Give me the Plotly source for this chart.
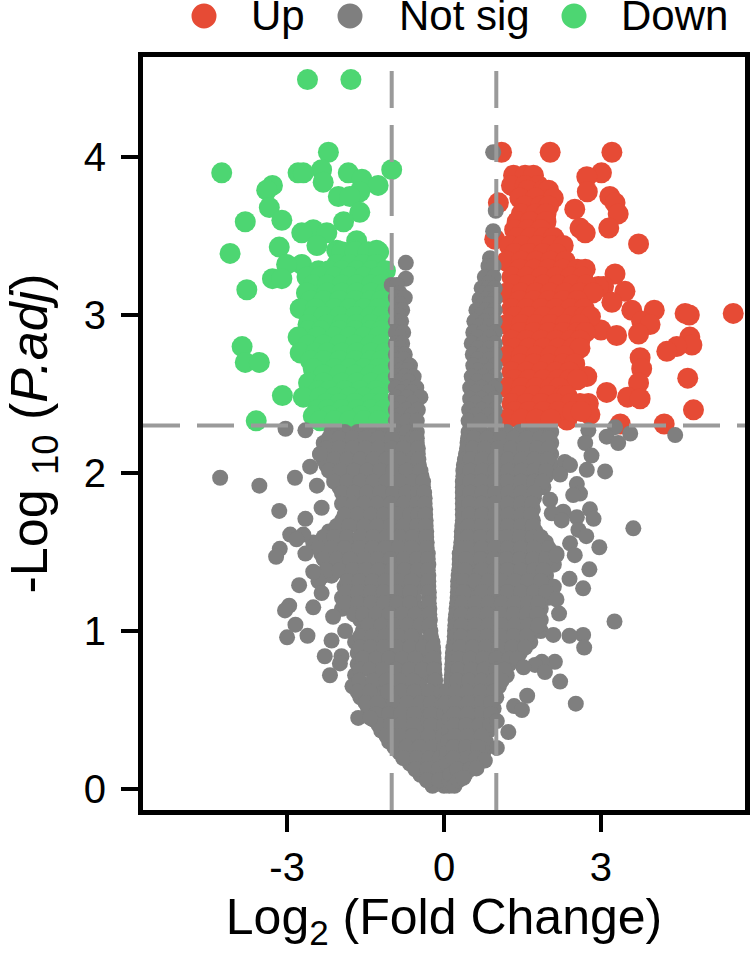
"""Volcano plot: Log2 fold change against -Log10 adjusted P, coloured by significance."""
import plotly.graph_objects as go

FONT = "Liberation Sans"
UP_COLOR = "#E64B35"
NOT_SIG_COLOR = "#7F7F7F"
DOWN_COLOR = "#4DD672"
GUIDE_COLOR = "#9A9A9A"

FC_CUTOFF = 1
P_CUTOFF = 2.3

X_TICKS = [-3, 0, 3]
Y_TICKS = [0, 1, 2, 3, 4]
LEGEND_LABELS = ["Up", "Not sig", "Down"]

# each row is (-log10 padj, [log2 fc, ...])
DOWN_SPARSE = [
    (4.49, [-2.61, -1.78]), (4.03, [-2.21]),
    (3.92, [-1.0, -2.34]), (3.9, [-4.25, -2.79, -2.69, -1.83]),
    (3.86, [-1.57]), (3.84, [-2.31]), (3.82, [-3.28, -1.26]), (3.79, [-3.39]),
    (3.78, [-1.61]), (3.75, [-2.02, -1.8]), (3.68, [-3.34]), (3.65, [-1.61]),
    (3.6, [-3.1]), (3.59, [-3.8, -1.92]), (3.54, [-2.5]), (3.52, [-2.72, -2.24]),
    (3.47, [-1.67]), (3.44, [-2.43]), (3.43, [-3.15]), (3.41, [-2.05, -1.73, -1.29]),
    (3.39, [-4.09]), (3.32, [-2.72, -3.01]), (3.23, [-3.28, -3.1]), (3.16, [-3.77]),
    (2.8, [-3.86]), (2.7, [-3.8, -3.53]), (2.49, [-3.09]), (2.33, [-3.59]),
]
DOWN_DENSE = [
    (3.4, [-1.95, -1.7, -1.45, -1.25]),
    (3.32, [-2.05, -1.8, -1.55, -1.3]),
    (3.28, [-2.4, -2.2, -1.95, -1.67, -1.39, -1.12]),
    (3.24, [-2.62, -2.37, -2.09, -1.81, -1.53, -1.25]),
    (3.19, [-2.5, -2.23, -1.95, -1.67, -1.39, -1.2]),
    (3.14, [-2.63, -2.23, -1.95, -1.67, -1.39, -1.12]),
    (3.09, [-2.55, -2.3, -2.0, -1.7, -1.4, -1.2]),
    (3.04, [-2.75, -2.45, -2.09, -1.81, -1.53, -1.25]),
    (2.99, [-2.5, -2.3, -2.0, -1.7, -1.4, -1.2]),
    (2.94, [-2.6, -2.23, -1.95, -1.67, -1.39, -1.12]),
    (2.9, [-2.6, -2.35, -2.0, -1.7, -1.4, -1.2]),
    (2.86, [-2.79, -2.42, -2.09, -1.81, -1.53, -1.25]),
    (2.81, [-2.6, -2.3, -2.0, -1.7, -1.4, -1.2]),
    (2.76, [-2.75, -2.45, -2.23, -1.95, -1.67, -1.39, -1.12]),
    (2.71, [-2.55, -2.3, -2.0, -1.7, -1.4, -1.2]),
    (2.66, [-2.5, -2.09, -1.81, -1.53, -1.25]),
    (2.62, [-2.3, -2.0, -1.7, -1.4, -1.2]),
    (2.57, [-2.59, -2.3, -1.95, -1.67, -1.39, -1.12]),
    (2.52, [-2.4, -2.2, -1.9, -1.6, -1.3]),
    (2.48, [-2.69, -2.37, -2.09, -1.81, -1.53, -1.25]),
    (2.44, [-2.25, -2.0, -1.7, -1.4, -1.2]),
    (2.4, [-2.42, -2.23, -1.95, -1.67, -1.39, -1.15]),
    (2.36, [-2.5, -2.2, -1.9, -1.6, -1.3]),
    (2.33, [-2.37, -2.09, -1.81, -1.53, -1.25]),
]
UP_SPARSE = [
    (4.03, [1.1, 2.03, 3.21]), (3.9, [3.01]), (3.875, [2.73]), (3.78, [2.74]),
    (3.75, [3.17]), (3.71, [3.27, 1.04]), (3.67, [2.5]), (3.64, [3.33]),
    (3.55, [2.6, 3.15]), (3.52, [2.7]), (3.48, [0.97]), (3.45, [3.72]),
    (3.26, [3.27]), (3.18, [3.05, 2.95]), (3.15, [3.46]), (3.08, [3.21]),
    (3.03, [3.59, 4.02]), (3.01, [4.61, 5.53]), (3.0, [4.69]), (2.96, [3.78]),
    (2.94, [3.94]), (2.905, [3.0]), (2.88, [3.72]), (2.87, [3.3]), (2.86, [4.7]),
    (2.81, [4.74]), (2.8, [4.45]), (2.77, [4.26]), (2.73, [3.75]), (2.66, [3.78]),
    (2.61, [2.73]), (2.6, [4.66]), (2.57, [3.72]), (2.51, [3.11]), (2.48, [3.51]),
    (2.47, [3.75]), (2.44, [2.76]), (2.4, [4.77]), (2.37, [2.79]), (2.335, [2.35]),
    (2.31, [4.21, 3.37]),
]
UP_DENSE = [
    (3.885, [1.33, 1.55, 1.71]),
    (3.82, [1.29, 1.55, 1.8]),
    (3.79, [1.6, 1.9, 2.0]),
    (3.74, [1.45, 1.75, 2.09]),
    (3.69, [1.55, 1.85, 2.0]),
    (3.64, [1.48, 1.75, 1.95]),
    (3.59, [1.4, 1.65, 1.95]),
    (3.54, [1.35, 1.6, 1.85]),
    (3.49, [1.4, 1.65, 1.9, 2.1]),
    (3.44, [1.25, 1.5, 1.78, 2.05, 2.28]),
    (3.39, [1.35, 1.62, 1.9, 2.15]),
    (3.34, [1.2, 1.48, 1.76, 2.04, 2.32]),
    (3.29, [1.45, 1.72, 2.0, 2.28, 2.55, 2.7]),
    (3.24, [1.3, 1.58, 1.86, 2.14, 2.42, 2.65]),
    (3.19, [1.35, 1.62, 1.9, 2.18, 2.46, 2.72]),
    (3.14, [1.2, 1.48, 1.76, 2.04, 2.32, 2.6, 2.85]),
    (3.09, [1.45, 1.72, 2.0, 2.28, 2.55]),
    (3.04, [1.3, 1.58, 1.86, 2.14, 2.42, 2.68]),
    (2.99, [1.35, 1.62, 1.9, 2.18, 2.46, 2.68, 2.8]),
    (2.94, [1.2, 1.48, 1.76, 2.04, 2.32, 2.6]),
    (2.89, [1.45, 1.72, 2.0, 2.28, 2.55, 2.7]),
    (2.84, [1.3, 1.58, 1.86, 2.14, 2.42, 2.6]),
    (2.79, [1.35, 1.62, 1.9, 2.18, 2.46, 2.6]),
    (2.74, [1.2, 1.48, 1.76, 2.04, 2.3]),
    (2.69, [1.45, 1.72, 2.0, 2.28, 2.5]),
    (2.64, [1.3, 1.58, 1.86, 2.14, 2.4]),
    (2.59, [1.35, 1.62, 1.9, 2.18, 2.4, 2.55]),
    (2.54, [1.2, 1.48, 1.76, 2.04, 2.2]),
    (2.49, [1.45, 1.72, 2.0, 2.28, 2.35]),
    (2.44, [1.3, 1.58, 1.86, 2.14, 2.42, 2.6]),
    (2.39, [1.35, 1.62, 1.9, 2.18, 2.46, 2.62]),
    (2.34, [1.2, 1.48, 1.76, 2.04]),
]
NOT_SIG_LEFT_UPPER = [
    (3.33, [-0.73]), (3.23, [-0.73]), (3.19, [-1.0, -0.9]), (3.14, [-0.85]),
    (3.11, [-0.92, -0.75]), (3.07, [-0.85]), (3.03, [-0.92, -0.8]), (3.0, [-0.87]),
    (2.96, [-0.92, -0.82]), (2.93, [-0.85]), (2.89, [-0.92, -0.78]), (2.86, [-0.85]),
    (2.82, [-0.92, -0.8]), (2.79, [-0.85]), (2.75, [-0.92, -0.75]), (2.72, [-0.85, -0.78]),
    (2.68, [-0.92, -0.65]), (2.65, [-0.82, -0.7]), (2.61, [-0.92, -0.75, -0.58]),
    (2.58, [-0.85, -0.68]), (2.54, [-0.92, -0.72, -0.53]), (2.51, [-0.82, -0.62]),
    (2.48, [-0.92, -0.7, -0.45]), (2.44, [-0.82, -0.6]), (2.4, [-0.92, -0.72, -0.5]),
    (2.365, [-0.85, -0.62]), (2.33, [-0.92, -0.7, -0.52]),
]
NOT_SIG_RIGHT_UPPER = [
    (4.03, [0.94]), (3.66, [0.99]), (3.53, [0.94]), (3.36, [0.88]),
    (3.31, [0.85, 0.95]), (3.24, [0.78, 0.95]), (3.2, [0.85]), (3.17, [0.72, 0.85, 0.97]),
    (3.14, [0.8, 0.9]), (3.1, [0.68, 0.82, 0.97]), (3.07, [0.75, 0.88]),
    (3.03, [0.62, 0.8, 0.97]), (3.0, [0.72, 0.88]), (2.96, [0.58, 0.78, 0.97]),
    (2.93, [0.68, 0.87]), (2.89, [0.56, 0.75, 0.97]), (2.86, [0.65, 0.87]),
    (2.82, [0.53, 0.75, 0.97]), (2.79, [0.65, 0.87]), (2.75, [0.55, 0.75, 0.97]),
    (2.72, [0.65, 0.87]), (2.68, [0.56, 0.75, 0.97]), (2.65, [0.65, 0.87]),
    (2.61, [0.53, 0.75, 0.97]), (2.58, [0.64, 0.85]), (2.54, [0.5, 0.72, 0.97]),
    (2.51, [0.62, 0.85]), (2.47, [0.5, 0.72, 0.97]), (2.44, [0.6, 0.85]),
    (2.4, [0.48, 0.72, 0.97]), (2.365, [0.6, 0.85]), (2.33, [0.47, 0.7, 0.97]),
]
NOT_SIG_LEFT_LOWER = [
    (2.26, [-2.15, -1.9, -1.65, -1.4, -1.15, -0.9, -0.7, -0.52]),
    (2.19, [-2.3, -2.05, -1.78, -1.53, -1.28, -1.03, -0.78, -0.52]),
    (2.12, [-2.37, -2.15, -1.9, -1.65, -1.4, -1.15, -0.9, -0.68, -0.5]),
    (2.05, [-2.25, -2.02, -1.78, -1.53, -1.28, -1.03, -0.78, -0.48]),
    (1.98, [-2.1, -1.9, -1.65, -1.4, -1.15, -0.9, -0.65, -0.43]),
    (1.91, [-2.0, -1.78, -1.53, -1.28, -1.03, -0.78, -0.53, -0.4]),
    (1.84, [-1.85, -1.65, -1.4, -1.15, -0.9, -0.65, -0.37]),
    (1.77, [-1.85, -1.6, -1.33, -1.08, -0.83, -0.58, -0.36]),
    (1.7, [-1.95, -1.7, -1.45, -1.2, -0.95, -0.7, -0.45, -0.35]),
    (1.63, [-2.2, -1.95, -1.58, -1.33, -1.08, -0.83, -0.58, -0.34]),
    (1.56, [-2.5, -2.25, -2.0, -1.7, -1.45, -1.2, -0.95, -0.7, -0.45, -0.33]),
    (1.49, [-2.35, -2.1, -1.83, -1.58, -1.33, -1.08, -0.83, -0.58, -0.31]),
    (1.42, [-2.2, -1.95, -1.7, -1.45, -1.2, -0.95, -0.7, -0.45, -0.3]),
    (1.35, [-2.3, -2.15, -1.83, -1.58, -1.33, -1.08, -0.83, -0.58, -0.3]),
    (1.28, [-1.9, -1.7, -1.45, -1.2, -0.95, -0.7, -0.45, -0.3]),
    (1.21, [-1.95, -1.83, -1.58, -1.33, -1.08, -0.83, -0.58, -0.29]),
    (1.14, [-1.95, -1.7, -1.45, -1.2, -0.95, -0.7, -0.45, -0.28]),
    (1.07, [-1.6, -1.33, -1.08, -0.83, -0.58, -0.27]),
    (1.0, [-1.55, -1.3, -1.05, -0.8, -0.55, -0.26]),
    (0.93, [-1.7, -1.45, -1.2, -0.95, -0.7, -0.45, -0.22]),
    (0.86, [-1.65, -1.33, -1.08, -0.83, -0.58, -0.33, -0.2]),
    (0.79, [-1.65, -1.45, -1.2, -0.95, -0.7, -0.45, -0.19]),
    (0.72, [-1.7, -1.33, -1.08, -0.83, -0.58, -0.33, -0.18]),
    (0.65, [-1.75, -1.5, -1.2, -0.95, -0.7, -0.45, -0.17]),
    (0.58, [-1.6, -1.33, -1.08, -0.83, -0.58, -0.33, -0.15]),
    (0.51, [-1.45, -1.2, -0.95, -0.7, -0.45, -0.13]),
    (0.44, [-1.35, -1.08, -0.83, -0.58, -0.33, -0.12]),
    (0.37, [-1.2, -0.95, -0.7, -0.45, -0.1]),
    (0.3, [-1.05, -0.83, -0.58, -0.33, -0.08]),
    (0.23, [-0.85, -0.7, -0.45, -0.2, -0.06]),
    (0.16, [-0.65, -0.4, -0.15, -0.03]),
    (0.09, [-0.45, -0.2, 0.0]),
    (0.02, [-0.22, 0.0, 0.1]),
]
NOT_SIG_LEFT_FILL = [
    (2.22, [-2.2, -2.0, -1.75, -1.5, -1.25, -1.0, -0.6, -0.52]),
    (2.155, [-2.25, -2.0, -1.75, -1.5, -1.25, -1.0, -0.78, -0.5]),
    (2.085, [-2.3, -2.1, -1.85, -1.6, -1.35, -1.1, -0.85, -0.6, -0.49]),
    (2.015, [-2.2, -1.98, -1.72, -1.47, -1.22, -0.97, -0.72, -0.45]),
    (1.945, [-2.1, -1.85, -1.6, -1.35, -1.1, -0.85, -0.6, -0.4]),
    (1.875, [-1.95, -1.72, -1.47, -1.22, -0.97, -0.72, -0.5, -0.38]),
    (1.805, [-1.95, -1.73, -1.52, -1.27, -1.02, -0.77, -0.52, -0.37]),
    (1.735, [-1.9, -1.65, -1.4, -1.15, -0.9, -0.65, -0.5, -0.36]),
    (1.665, [-2.05, -1.82, -1.52, -1.27, -1.02, -0.77, -0.52, -0.35]),
    (1.595, [-2.3, -2.1, -1.85, -1.6, -1.35, -1.1, -0.85, -0.6, -0.34]),
    (1.525, [-2.4, -2.15, -1.9, -1.62, -1.37, -1.12, -0.87, -0.62, -0.33]),
    (1.455, [-2.3, -2.05, -1.8, -1.52, -1.27, -1.02, -0.77, -0.52, -0.31]),
    (1.385, [-2.25, -2.0, -1.75, -1.5, -1.25, -1.0, -0.75, -0.5, -0.31]),
    (1.315, [-2.4, -1.85, -1.62, -1.37, -1.12, -0.87, -0.62, -0.3]),
    (1.245, [-1.88, -1.65, -1.4, -1.15, -0.9, -0.65, -0.29]),
    (1.175, [-1.88, -1.65, -1.4, -1.15, -0.9, -0.65, -0.29]),
    (1.105, [-1.72, -1.55, -1.3, -1.05, -0.8, -0.55, -0.28]),
    (1.035, [-1.45, -1.2, -0.95, -0.7, -0.45, -0.28]),
    (0.965, [-1.6, -1.37, -1.12, -0.87, -0.62, -0.25]),
    (0.895, [-1.6, -1.4, -1.15, -0.9, -0.65, -0.4, -0.21]),
    (0.825, [-1.55, -1.3, -1.05, -0.8, -0.55, -0.2]),
    (0.755, [-1.6, -1.42, -1.17, -0.92, -0.67, -0.42, -0.19]),
    (0.685, [-1.62, -1.35, -1.1, -0.85, -0.6, -0.17]),
    (0.615, [-1.65, -1.42, -1.07, -0.82, -0.57, -0.28, -0.05]),
    (0.545, [-1.5, -1.27, -0.95, -0.7, -0.45, -0.25, -0.03]),
    (0.475, [-1.3, -1.05, -0.82, -0.57, -0.25, 0.0]),
    (0.405, [-1.25, -1.02, -0.82, -0.58, -0.25, 0.0]),
    (0.335, [-1.1, -0.85, -0.6, -0.3, -0.02]),
    (0.265, [-0.95, -0.72, -0.47, -0.2, 0.0]),
    (0.195, [-0.78, -0.52, -0.28, -0.08, 0.05]),
    (0.125, [-0.55, -0.32, -0.1, 0.1]),
    (0.055, [-0.33, -0.1, 0.1]),
]
NOT_SIG_LEFT_OUTLIERS = [
    (2.28, [-3.03]), (2.27, [-2.65]), (2.12, [-2.37]), (2.04, [-2.56]),
    (1.97, [-2.85, -4.28]), (1.92, [-3.53, -2.43]), (1.78, [-2.34]),
    (1.76, [-3.15]), (1.71, [-2.65]), (1.61, [-2.94, -2.69]), (1.58, [-2.82]),
    (1.52, [-3.14]), (1.47, [-3.21]), (1.49, [-2.65]), (1.375, [-2.5]),
    (1.29, [-2.77]), (1.24, [-2.34]), (1.16, [-2.96]), (1.15, [-2.5]),
    (1.13, [-3.04]), (1.09, [-2.12]), (1.04, [-2.84]), (1.0, [-1.89]),
    (0.97, [-2.61]), (0.96, [-3.0]), (0.94, [-2.15]), (0.84, [-2.28, -1.96]),
    (0.795, [-1.99]), (0.72, [-2.18]), (0.45, [-1.64, -1.41]),
]
NOT_SIG_RIGHT_LOWER = [
    (2.26, [0.47, 0.7, 0.95, 1.2, 1.45, 1.7, 1.95, 2.05]),
    (2.19, [0.45, 0.6, 0.85, 1.1, 1.35, 1.6, 1.85, 2.05]),
    (2.12, [0.42, 0.73, 0.98, 1.23, 1.48, 1.73, 1.98, 2.05]),
    (2.05, [0.38, 0.6, 0.85, 1.1, 1.35, 1.6, 1.85, 2.05]),
    (1.98, [0.37, 0.48, 0.73, 0.98, 1.23, 1.48, 1.73, 1.95]),
    (1.91, [0.36, 0.6, 0.85, 1.1, 1.35, 1.6, 1.9]),
    (1.84, [0.36, 0.48, 0.73, 0.98, 1.23, 1.48, 1.72]),
    (1.77, [0.36, 0.6, 0.85, 1.1, 1.35, 1.55, 1.7]),
    (1.7, [0.36, 0.48, 0.73, 0.98, 1.23, 1.48, 1.7]),
    (1.63, [0.34, 0.6, 0.85, 1.1, 1.35, 1.6, 1.75]),
    (1.56, [0.33, 0.48, 0.73, 0.98, 1.23, 1.48, 1.73, 1.95]),
    (1.49, [0.3, 0.6, 0.85, 1.1, 1.35, 1.6, 1.85, 2.15]),
    (1.42, [0.3, 0.48, 0.73, 0.98, 1.23, 1.48, 1.73, 1.98, 2.1]),
    (1.35, [0.28, 0.6, 0.85, 1.1, 1.35, 1.6, 1.95]),
    (1.28, [0.27, 0.48, 0.73, 0.98, 1.23, 1.48, 1.73, 1.98, 2.1]),
    (1.21, [0.26, 0.6, 0.85, 1.1, 1.35, 1.6, 1.85, 2.0]),
    (1.14, [0.24, 0.48, 0.73, 0.98, 1.23, 1.48, 1.73, 1.85]),
    (1.07, [0.22, 0.45, 0.7, 0.95, 1.2, 1.45, 1.7, 1.85]),
    (1.0, [0.21, 0.48, 0.73, 0.98, 1.23, 1.48, 1.73, 1.85]),
    (0.93, [0.2, 0.42, 0.67, 0.92, 1.17, 1.42, 1.65]),
    (0.86, [0.17, 0.4, 0.65, 0.9, 1.15, 1.45]),
    (0.79, [0.16, 0.33, 0.58, 0.83, 1.08, 1.25]),
    (0.72, [0.15, 0.4, 0.65, 0.9, 1.05, 1.2]),
    (0.65, [0.13, 0.33, 0.58, 0.83, 1.05]),
    (0.58, [0.12, 0.3, 0.55, 0.8, 1.0]),
    (0.51, [0.11, 0.35, 0.6, 0.95]),
    (0.44, [0.1, 0.3, 0.55, 0.78, 0.95]),
    (0.37, [0.09, 0.33, 0.6, 0.85]),
    (0.3, [0.08, 0.3, 0.55, 0.8]),
    (0.23, [0.06, 0.25, 0.5, 0.75]),
    (0.16, [0.05, 0.3, 0.6]),
    (0.09, [0.12, 0.4]),
    (0.02, [0.2]),
]
NOT_SIG_RIGHT_FILL = [
    (2.22, [0.46, 0.58, 0.83, 1.08, 1.33, 1.58, 1.83, 2.0]),
    (2.155, [0.44, 0.55, 0.78, 1.03, 1.28, 1.53, 1.78, 2.0]),
    (2.085, [0.4, 0.5, 0.73, 0.98, 1.23, 1.48, 1.73, 1.98]),
    (2.015, [0.37, 0.5, 0.73, 0.98, 1.23, 1.48, 1.73, 1.95]),
    (1.945, [0.36, 0.5, 0.72, 0.97, 1.22, 1.47, 1.72, 1.88]),
    (1.875, [0.36, 0.5, 0.73, 0.98, 1.23, 1.48, 1.73]),
    (1.805, [0.36, 0.48, 0.72, 0.97, 1.22, 1.47, 1.68]),
    (1.735, [0.36, 0.48, 0.73, 0.98, 1.23, 1.48, 1.66]),
    (1.665, [0.35, 0.47, 0.72, 0.97, 1.22, 1.47, 1.7]),
    (1.595, [0.34, 0.45, 0.7, 0.95, 1.2, 1.45, 1.7, 1.85]),
    (1.525, [0.32, 0.45, 0.72, 0.97, 1.22, 1.47, 1.72, 2.0]),
    (1.455, [0.3, 0.42, 0.7, 0.95, 1.2, 1.45, 1.7, 1.95]),
    (1.385, [0.29, 0.4, 0.72, 0.97, 1.22, 1.47, 1.72, 1.9]),
    (1.315, [0.27, 0.38, 0.6, 0.85, 1.1, 1.35, 1.6, 1.85]),
    (1.245, [0.265, 0.37, 0.72, 0.97, 1.22, 1.47, 1.72, 1.95]),
    (1.175, [0.25, 0.35, 0.6, 0.85, 1.1, 1.35, 1.6, 1.8]),
    (1.105, [0.23, 0.33, 0.58, 0.83, 1.08, 1.33, 1.58, 1.78]),
    (1.035, [0.215, 0.33, 0.6, 0.85, 1.1, 1.35, 1.6, 1.8]),
    (0.965, [0.205, 0.32, 0.58, 0.83, 1.08, 1.33, 1.58]),
    (0.895, [0.18, 0.3, 0.55, 0.8, 1.05, 1.3, 1.55]),
    (0.825, [0.165, 0.28, 0.5, 0.75, 1.0, 1.25, 1.4]),
    (0.755, [0.155, 0.27, 0.52, 0.77, 1.0, 1.15]),
    (0.685, [0.14, 0.25, 0.48, 0.72, 0.95, 1.1]),
    (0.615, [0.05, 0.22, 0.45, 0.7, 0.95]),
    (0.545, [0.03, 0.22, 0.47, 0.72, 0.9]),
    (0.475, [0.2, 0.45, 0.72, 0.9]),
    (0.405, [0.2, 0.42, 0.68, 0.88]),
    (0.335, [0.2, 0.45, 0.72]),
    (0.265, [0.18, 0.42, 0.65]),
    (0.195, [0.18, 0.45, 0.62]),
    (0.125, [0.25, 0.5]),
    (0.055, [0.28]),
]
NOT_SIG_RIGHT_OUTLIERS = [
    (2.29, [3.27]), (2.27, [2.76]), (2.25, [3.56]), (2.24, [4.42]), (2.23, [3.11]),
    (2.19, [2.7, 3.33]), (2.11, [2.82]), (2.07, [2.31]), (2.05, [2.41]),
    (2.02, [2.73]), (2.01, [3.08]), (1.99, [2.22]), (1.93, [2.54]), (1.87, [2.6]),
    (1.86, [2.47]), (1.83, [2.03]), (1.77, [2.79]), (1.755, [2.28]), (1.745, [2.06]),
    (1.72, [2.54]), (1.71, [2.86]), (1.7, [2.25]), (1.65, [3.62]), (1.64, [2.57]),
    (1.6, [2.72]), (1.555, [2.41]), (1.53, [2.97]), (1.48, [2.5, 2.15]), (1.39, [2.78]),
    (1.33, [2.4]), (1.27, [2.66]), (1.2, [2.15]), (1.11, [2.2]), (1.06, [3.26]),
    (0.975, [2.09, 2.66]), (0.97, [2.4]), (0.895, [2.68]), (0.805, [2.12, 1.87]),
    (0.785, [1.74]), (0.77, [1.52]), (0.74, [1.93]), (0.68, [2.22]), (0.59, [1.59]),
    (0.54, [2.52]), (0.525, [1.34]), (0.5, [1.49]), (0.43, [1.01]), (0.36, [1.23]),
    (0.26, [1.01]), (0.18, [0.78]), (0.13, [0.62]), (0.07, [0.37]),
]

DOWN_ROWS = DOWN_SPARSE + DOWN_DENSE
UP_ROWS = UP_SPARSE + UP_DENSE
NOT_SIG_ROWS = (NOT_SIG_LEFT_UPPER + NOT_SIG_RIGHT_UPPER + NOT_SIG_LEFT_LOWER + NOT_SIG_LEFT_FILL
                + NOT_SIG_LEFT_OUTLIERS + NOT_SIG_RIGHT_LOWER + NOT_SIG_RIGHT_FILL
                + NOT_SIG_RIGHT_OUTLIERS)


def unpack(rows):
    xs, ys = [], []
    for y, row in rows:
        for x in row:
            xs.append(x)
            ys.append(y)
    return xs, ys


def points(rows, color, size, name):
    xs, ys = unpack(rows)
    return go.Scatter(x=xs, y=ys, mode="markers", name=name, showlegend=False,
                      marker=dict(color=color, size=size, line_width=0))


fig = go.Figure()
# grey sits on top of both coloured groups, as in the original
fig.add_trace(points(DOWN_ROWS, DOWN_COLOR, 21, "Down"))
fig.add_trace(points(UP_ROWS, UP_COLOR, 21, "Up"))
fig.add_trace(points(NOT_SIG_ROWS, NOT_SIG_COLOR, 16, "Not sig"))

for x in (-FC_CUTOFF, FC_CUTOFF):
    fig.add_shape(type="line", x0=x, x1=x, y0=-0.133, y1=4.633, layer="above",
                  line=dict(color=GUIDE_COLOR, width=4, dash="37px,17px"))
fig.add_shape(type="line", x0=-5.755, x1=5.755, y0=P_CUTOFF, y1=P_CUTOFF, layer="above",
              line=dict(color=GUIDE_COLOR, width=4, dash="37px,17px"))

# hand-placed legend row above the frame: its markers are larger than plotly's legend allows
LEGEND_DOT_X = [204, 350, 574]
LEGEND_TEXT_X = [249, 397, 619]
LEGEND_COLORS = [UP_COLOR, NOT_SIG_COLOR, DOWN_COLOR]
for label, dot_x, text_x, color in zip(LEGEND_LABELS, LEGEND_DOT_X, LEGEND_TEXT_X, LEGEND_COLORS):
    fig.add_shape(type="circle", xref="paper", yref="paper", xsizemode="pixel", ysizemode="pixel",
                  xanchor=(dot_x - 143) / 602, yanchor=1 + 41 / 753,
                  x0=-12.5, x1=12.5, y0=-12.5, y1=12.5, fillcolor=color, line_width=0)
    fig.add_annotation(x=(text_x - 143) / 602, y=1 + 42 / 753, xref="paper", yref="paper",
                       text=label, showarrow=False, xanchor="left", yanchor="middle",
                       font=dict(family=FONT, size=42, color="black"))

axis_style = dict(showgrid=False, zeroline=False, showline=True, mirror=True,
                  linecolor="black", linewidth=5, ticks="outside", ticklen=17,
                  tickwidth=4, tickcolor="black",
                  tickfont=dict(family=FONT, size=40, color="black"))
fig.update_xaxes(range=[-5.755, 5.755], tickvals=X_TICKS, ticktext=[str(v) for v in X_TICKS],
                 title=dict(text="Log<sub>2</sub> (Fold Change)", standoff=11,
                            font=dict(family=FONT, size=50, color="black")),
                 ticklabelstandoff=1, **axis_style)
fig.update_yaxes(range=[-0.133, 4.633], tickvals=Y_TICKS, ticktext=[str(v) for v in Y_TICKS],
                 title=dict(text="-Log <sub>10</sub> (<i>P.adj</i>)", standoff=43,
                            font=dict(family=FONT, size=52, color="black")),
                 ticklabelstandoff=7, **axis_style)
fig.update_layout(width=750, height=958, autosize=False, plot_bgcolor="white", paper_bgcolor="white",
                  margin=dict(l=143, r=5, t=57, b=148, autoexpand=False), showlegend=False)
# the page's default body margin and scrollbars would push the figure off the window
fig.write_html("out.html", config=dict(displayModeBar=False),
               post_script="document.body.style.margin='0';document.documentElement.style.overflow='hidden';")
